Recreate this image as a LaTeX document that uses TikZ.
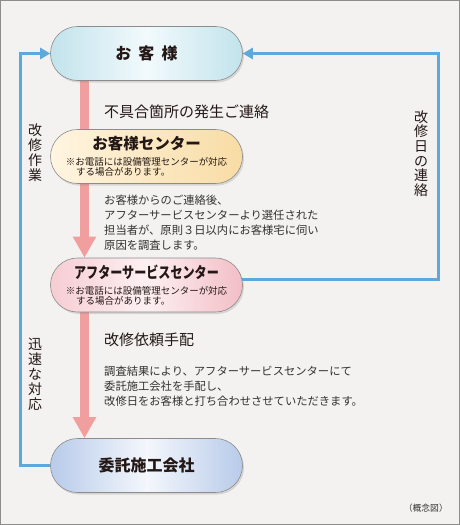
\documentclass[tikz,border=0pt]{standalone}
\usepackage{fontspec}
\setmainfont{Noto Sans CJK JP}
\usetikzlibrary{arrows.meta,shadows,calc}
\pgfdeclarelayer{bg}
\pgfdeclarelayer{conn}
\pgfsetlayers{bg,conn,main}
\definecolor{bgc}{HTML}{F3F2F0}
\definecolor{framec}{HTML}{8C8C8C}
\definecolor{pinkc}{HTML}{F19E9E}
\definecolor{bluec}{HTML}{5FA8DC}
\definecolor{txt}{HTML}{231815}
\definecolor{bodytxt}{HTML}{333333}
\newcommand{\titlefnt}{\fontsize{15.5}{16}\selectfont\bfseries}
\begin{document}
\begin{tikzpicture}[x=1pt,y=-1pt,
  stadium/.style={draw=black!45, line width=0.6pt, minimum width=192pt, minimum height=54pt,
    rounded corners=27pt, inner sep=0pt, align=center, text=txt,
    drop shadow={opacity=0.25, shadow xshift=1.5pt, shadow yshift=-2pt},
    font=\fontsize{9.5}{10}\selectfont},
  kyakusty/.style={left color=c1, right color=c1, middle color=c1m},
  pinkbar/.style={draw=pinkc, line width=9pt},
  bigtip/.style={-{Triangle[width=22pt,length=21pt]}},
  blueline/.style={draw=bluec, line width=3pt, -{Triangle[width=11pt,length=10pt]}},
  headtxt/.style={font=\fontsize{15}{16}\selectfont, text=txt, inner sep=0pt, anchor=west},
  bodytext/.style={font=\fontsize{11.3}{15}\selectfont, text=bodytxt, inner sep=0pt, align=left, anchor=north west},
  vlabel/.style={font=\fontsize{14}{15}\selectfont, text=txt, inner sep=0pt, align=center}
]
\colorlet{c1}{white}
\begin{pgfonlayer}{bg}
  \draw[fill=bgc, draw=framec, line width=1pt] (0.5,0.5) rectangle (459.5,524.5);
\end{pgfonlayer}
\useasboundingbox (0,0) rectangle (460,525);

% nodes
\node[stadium, left color={rgb,255:red,194;green,227;blue,236}, right color={rgb,255:red,194;green,227;blue,236}, middle color={rgb,255:red,242;green,250;blue,252}] (kyaku) at (146.5,53.5)
  {\fontsize{16}{16}\selectfont\bfseries お\hspace{0.45em}客\hspace{0.45em}様};

\node[stadium, left color={rgb,255:red,255;green,245;blue,225}, right color={rgb,255:red,248;green,220;blue,165}] (center) at (146.5,156.5)
  {{\titlefnt お客様センター}\\[5.7pt]
   ※お電話には設備管理センターが対応\\
   \makebox[161.5pt][l]{\hspace{1.1em}する場合があります。}};

\node[stadium, left color={rgb,255:red,246;green,205;blue,211}, right color={rgb,255:red,242;green,190;blue,198}, middle color={rgb,255:red,253;green,240;blue,242}] (after) at (146.5,285)
  {{\titlefnt\scalebox{0.78}[1]{アフターサービスセンター}}\\[5.7pt]
   ※お電話には設備管理センターが対応\\
   \makebox[161.5pt][l]{\hspace{1.1em}する場合があります。}};

\node[stadium, left color={rgb,255:red,184;green,203;blue,234}, right color={rgb,255:red,184;green,203;blue,234}, middle color={rgb,255:red,244;green,247;blue,252}] (iraku) at (146.5,465.5)
  {\fontsize{16}{16}\selectfont\bfseries 委託施工会社};

% texts
\node[headtxt] (t1) at (104,112) {不具合箇所の発生ご連絡};
\node[bodytext] (b1) at (104,195) {お客様からのご連絡後、\\アフターサービスセンターより選任された\\担当者が、原則３日以内にお客様宅に伺い\\原因を調査します。};
\node[headtxt] (t2) at (104,340) {改修依頼手配};
\node[bodytext] (b2) at (104,366) {調査結果により、アフターサービスセンターにて\\委託施工会社を手配し、\\改修日をお客様と打ち合わせさせていただきます。};

\node[vlabel] (v1) at (35,152.5) {改\\修\\作\\業};
\node[vlabel] (v2) at (35,374) {迅\\速\\な\\対\\応};
\node[vlabel, font=\fontsize{14}{14.6}\selectfont] (v3) at (421,153.5) {改\\修\\日\\の\\連\\絡};

\node[font=\fontsize{8.8}{9}\selectfont, text=bodytxt, inner sep=0pt, anchor=east] (gainen) at (448,508) {（概念図）};

% connectors
\begin{pgfonlayer}{conn}
  \coordinate (px) at (84.5,0);
  \coordinate (rx) at (438,0);
  \coordinate (lx) at (20,0);
  \coordinate (ao) at ($(after.center)+(0,-6)$);
  \draw[pinkbar] (kyaku.south -| px) -- (center.north -| px);
  \draw[pinkbar, bigtip] (center.south -| px) -- (after.north -| px);
  \draw[pinkbar, bigtip] (after.south -| px) -- (iraku.north -| px);
  \draw[blueline] (ao) -- (ao -| rx) |- (kyaku.east);
  \draw[blueline] (iraku.west) -- (iraku.west -| lx) |- (kyaku.west);
\end{pgfonlayer}
\end{tikzpicture}
\end{document}
